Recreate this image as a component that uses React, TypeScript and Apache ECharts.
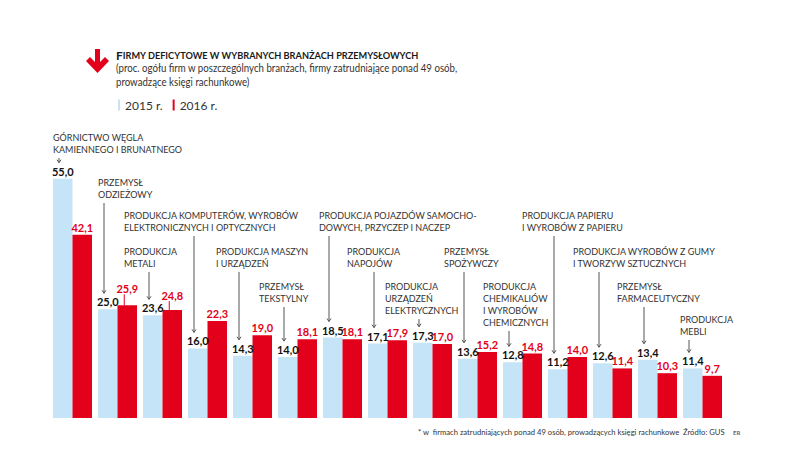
import React, { useEffect, useRef } from "react";
import * as echarts from "echarts";

const categories = [
  "GÓRNICTWO WĘGLA\nKAMIENNEGO I BRUNATNEGO",
  "PRZEMYSŁ\nODZIEŻOWY",
  "PRODUKCJA\nMETALI",
  "PRODUKCJA KOMPUTERÓW, WYROBÓW\nELEKTRONICZNYCH I OPTYCZNYCH",
  "PRODUKCJA MASZYN\nI URZĄDZEŃ",
  "PRZEMYSŁ\nTEKSTYLNY",
  "PRODUKCJA POJAZDÓW SAMOCHO-\nDOWYCH, PRZYCZEP I NACZEP",
  "PRODUKCJA\nNAPOJÓW",
  "PRODUKCJA\nURZĄDZEŃ\nELEKTRYCZNYCH",
  "PRZEMYSŁ\nSPOŻYWCZY",
  "PRODUKCJA\nCHEMIKALIÓW\nI WYROBÓW\nCHEMICZNYCH",
  "PRODUKCJA PAPIERU\nI WYROBÓW Z PAPIERU",
  "PRODUKCJA WYROBÓW Z GUMY\nI TWORZYW SZTUCZNYCH",
  "PRZEMYSŁ\nFARMACEUTYCZNY",
  "PRODUKCJA\nMEBLI",
];
const values2015 = [55.0, 25.0, 23.6, 16.0, 14.3, 14.0, 18.5, 17.1, 17.3, 13.6, 12.8, 11.2, 12.6, 13.4, 11.4];
const values2016 = [42.1, 25.9, 24.8, 22.3, 19.0, 18.1, 18.1, 17.9, 17.0, 15.2, 14.8, 14.0, 11.4, 10.3, 9.7];
const seriesNames = ["2015 r.", "2016 r."];

const titleText = "Firmy deficytowe w wybranych branżach przemysłowych";
const subtitleText =
  "(proc. ogółu firm w poszczególnych branżach, firmy zatrudniające ponad 49 osób,\nprowadzące księgi rachunkowe)";
const footnoteText = "* w  firmach zatrudniających ponad 49 osób, prowadzących księgi rachunkowe";
const sourceText = "Źródło: GUS";
const creditText = "ER";

// layout (pixels): annotation first-line centre y, text x offset from blue bar's left edge
const annotTop = [137, 182, 251, 215, 251, 286, 215, 251, 286, 251, 286, 215, 251, 286, 319];
const annotDx = [0, 0, -19, -64, -17, -19, -4, -21, -28, -14, -20, -26, -20, -21, -3];
// extra raise of some 2016 labels (pixels)
const redRaise = [0, 9, 7, 0, 0, 0, 0, 0, 0, 0, 0, 0, 0, 0, 0];

const BLUE = "#c6e4f8";
const RED = "#e2001a";
const FONT = "Lato";
const BAR_W = 19.5;
const LINE_H = 12;
const NARROW = 0.9;

const fmt = (v: number) => v.toFixed(1).replace(".", ",");

export default function App() {
  const ref = useRef<HTMLDivElement>(null);
  useEffect(() => {
    if (!ref.current) return;
    const chart = echarts.init(ref.current, undefined, { renderer: "svg" });

    const option: any = {
      animation: false,
      backgroundColor: "#ffffff",
      textStyle: { fontFamily: FONT },
      grid: { left: 50, right: 63, top: 157, bottom: 52 },
      legend: {
        data: seriesNames,
        left: 113,
        top: 94,
        icon: "rect",
        itemWidth: 2,
        itemHeight: 11,
        itemGap: 10,
        textStyle: { fontFamily: FONT, fontSize: 12, color: "#333" },
      },
      xAxis: {
        type: "category",
        data: categories,
        axisLine: { show: false },
        axisTick: { show: false },
        axisLabel: { show: false },
      },
      yAxis: {
        type: "value",
        min: 0,
        max: 60,
        show: false,
        splitLine: { show: false },
      },
      graphic: [
        {
          type: "polygon",
          shape: {
            points: [
              [95, 49], [100, 49], [100, 62], [105, 57], [109, 61], [97.5, 73],
              [86, 61], [90, 57], [95, 62],
            ],
          },
          style: { fill: RED },
        },
        {
          type: "text",
          x: 116,
          y: 55,
          style: {
            text: `{a|${titleText.charAt(0).toUpperCase()}}{b|${titleText.slice(1).toUpperCase()}}`,
            verticalAlign: "middle",
            rich: {
              a: { fontFamily: FONT, fontWeight: "bold", fontSize: 12, fill: "#1a1a1a" },
              b: { fontFamily: FONT, fontWeight: "bold", fontSize: 9.2, fill: "#1a1a1a" },
            },
          },
        },
        {
          type: "text",
          x: 116,
          y: 61,
          scaleX: 0.92,
          style: {
            text: subtitleText,
            fontFamily: FONT,
            fontSize: 10.5,
            lineHeight: 14,
            fill: "#333",
          },
        },
        {
          type: "text",
          x: 418,
          y: 432,
          scaleX: NARROW,
          style: { text: footnoteText, fontFamily: FONT, fontSize: 8.5, fill: "#333", verticalAlign: "middle" },
        },
        {
          type: "text",
          x: 683,
          y: 432,
          scaleX: NARROW,
          style: { text: sourceText, fontFamily: FONT, fontSize: 8.5, fill: "#333", verticalAlign: "middle" },
        },
        {
          type: "text",
          x: 733,
          y: 432,
          style: { text: creditText, fontFamily: FONT, fontSize: 6, fontWeight: "bold", fill: "#666", verticalAlign: "middle" },
        },
      ],
      series: [
        {
          name: seriesNames[0],
          type: "bar",
          data: values2015,
          barWidth: BAR_W,
          barGap: "0%",
          itemStyle: { color: BLUE },
          label: {
            show: true,
            position: "top",
            distance: 2,
            formatter: (p: any) => fmt(p.value),
            fontFamily: FONT,
            fontWeight: "bold",
            fontSize: 11,
            color: "#111",
          },
        },
        {
          name: seriesNames[1],
          type: "bar",
          data: values2016.map((v, i) => ({
            value: v,
            label: { offset: [0, -redRaise[i]] },
          })),
          barWidth: BAR_W,
          barGap: "0%",
          itemStyle: { color: RED },
          label: {
            show: true,
            position: "top",
            distance: 2,
            formatter: (p: any) => fmt(p.value),
            fontFamily: FONT,
            fontWeight: "bold",
            fontSize: 11,
            color: RED,
          },
        },
        {
          type: "custom",
          name: "annotations",
          clip: false,
          silent: true,
          data: values2015.map((v, i) => [i, v]),
          encode: { x: 0, y: 1 },
          renderItem: (params: any, api: any) => {
            const i = params.dataIndex;
            const v = api.value(1);
            const [cx, yTop] = api.coord([i, v]);
            const blueLeft = cx - BAR_W;
            const text = categories[i];
            const nLines = text.split("\n").length;
            const top = annotTop[i];
            const textBottom = top + (nLines - 1) * LINE_H + 6;
            const lx = blueLeft + 6;
            const y1 = textBottom + 3;
            const tip = yTop - 16;
            return {
              type: "group",
              children: [
                {
                  type: "text",
                  x: blueLeft + annotDx[i],
                  y: top - LINE_H / 2,
                  scaleX: NARROW,
                  style: {
                    text,
                    fontFamily: FONT,
                    fontSize: 10,
                    lineHeight: LINE_H,
                    fill: "#333",
                    verticalAlign: "top",
                  },
                },
                {
                  type: "line",
                  shape: { x1: lx, y1, x2: lx, y2: tip },
                  style: { stroke: "#555", lineWidth: 1 },
                },
                {
                  type: "polyline",
                  shape: { points: [[lx - 2, tip - 3], [lx, tip], [lx + 2, tip - 3]] },
                  style: { stroke: "#555", lineWidth: 1, fill: "none" },
                },
              ],
            };
          },
        },
        {
          type: "custom",
          name: "leaders",
          clip: false,
          silent: true,
          data: values2016.map((v, i) => [i, v]),
          encode: { x: 0, y: 1 },
          renderItem: (params: any, api: any) => {
            const i = params.dataIndex;
            if (!redRaise[i]) return { type: "group", children: [] };
            const [cx, yTop] = api.coord([i, api.value(1)]);
            const lx = cx + BAR_W / 2 - 3;
            return {
              type: "line",
              shape: { x1: lx, y1: yTop, x2: lx, y2: yTop - redRaise[i] - 2 },
              style: { stroke: RED, lineWidth: 1 },
            };
          },
        },
      ],
    };
    chart.setOption(option);
    return () => chart.dispose();
  }, []);
  return (
    <div
      ref={ref}
      style={{ position: "fixed", left: 0, top: 0, width: 788, height: 470 }}
    />
  );
}
